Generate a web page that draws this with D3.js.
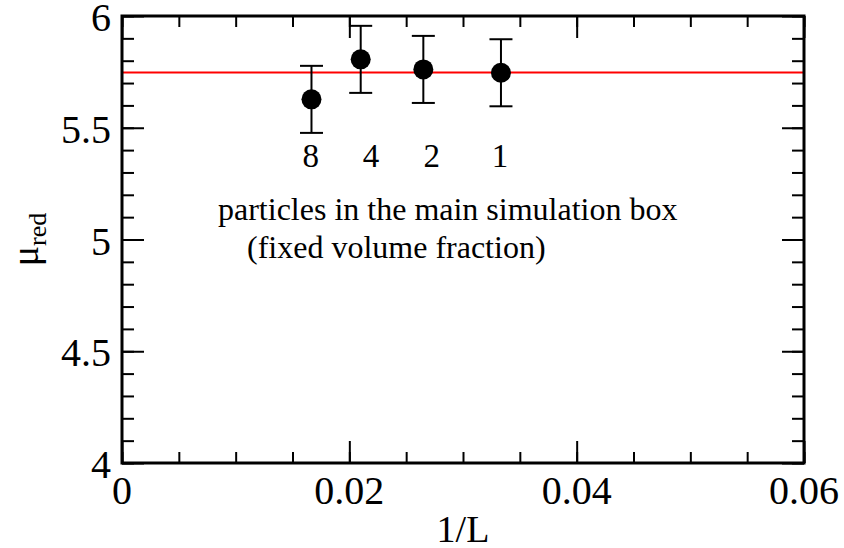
<!DOCTYPE html>
<html>
<head>
<meta charset="utf-8">
<script src="https://cdn.jsdelivr.net/npm/d3@7"></script>
<style>
  body { margin: 0; background: #fff; }
</style>
</head>
<body>
<div id="chart_parent"></div>
<script>
// data
const invL = [0.01667, 0.0210, 0.02651, 0.03334];
const muRed = [5.627, 5.806, 5.761, 5.746];
const muErr = [0.15, 0.15, 0.15, 0.15];
const boxLabels = ['8', '4', '2', '1'];
const boxLabelX = [0.0166, 0.0219, 0.02725, 0.03326];
const refValue = 5.747;
const xTicks = [0, 0.02, 0.04, 0.06];
const yTicks = [4, 4.5, 5, 5.5, 6];
const noteLines = ['particles in the main simulation box', '(fixed volume fraction)'];

const serif = '"Liberation Serif", "Times New Roman", Times, serif';

const config = {
    margins: { top: 16, right: 40, bottom: 85, left: 122 },
    outerWidth: 844,
    outerHeight: 548,
};

const width = config.outerWidth - config.margins.left - config.margins.right;
const height = config.outerHeight - config.margins.top - config.margins.bottom;

const svg = d3.select('#chart_parent').append('svg')
    .attr('width', config.outerWidth)
    .attr('height', config.outerHeight)
    .style('font-family', serif);

const g = svg.append('g')
    .attr('transform', `translate(${config.margins.left},${config.margins.top})`);

const x = d3.scaleLinear().domain([0, 0.06]).range([0, width]);
const y = d3.scaleLinear().domain([4, 6]).range([height, 0]);

const xMinor = d3.range(0, 0.0601, 0.005);
const yMinor = d3.range(4, 6.001, 0.1);

function drawTicks(axis, offset) {
    const grp = g.append('g').attr('transform', offset);
    grp.call(axis);
    grp.select('.domain').remove();
    grp.selectAll('line').attr('stroke', '#000').attr('stroke-width', 2);
    return grp;
}

// minor + major ticks, inward on all four sides
drawTicks(d3.axisBottom(x).tickValues(xMinor).tickSize(-11).tickFormat(''), `translate(0,${height})`);
drawTicks(d3.axisBottom(x).tickValues(xTicks).tickSize(-22).tickFormat(''), `translate(0,${height})`);
drawTicks(d3.axisTop(x).tickValues(xMinor).tickSize(-11).tickFormat(''), 'translate(0,0)');
drawTicks(d3.axisTop(x).tickValues(xTicks).tickSize(-22).tickFormat(''), 'translate(0,0)');
drawTicks(d3.axisLeft(y).tickValues(yMinor).tickSize(-12).tickFormat(''), 'translate(0,0)');
drawTicks(d3.axisLeft(y).tickValues(yTicks).tickSize(-22).tickFormat(''), 'translate(0,0)');
drawTicks(d3.axisRight(y).tickValues(yMinor).tickSize(-12).tickFormat(''), `translate(${width},0)`);
drawTicks(d3.axisRight(y).tickValues(yTicks).tickSize(-22).tickFormat(''), `translate(${width},0)`);

// tick labels
g.selectAll('.xlab').data(xTicks).enter().append('text')
    .attr('x', d => x(d))
    .attr('y', height + 41)
    .attr('text-anchor', 'middle')
    .style('font-family', serif)
    .style('font-size', '40px')
    .text(d => d3.format('')(d));

g.selectAll('.ylab').data(yTicks).enter().append('text')
    .attr('x', -11)
    .attr('y', d => y(d) + 15)
    .attr('text-anchor', 'end')
    .style('font-family', serif)
    .style('font-size', '40px')
    .text(d => d3.format('')(d));

// reference line
g.append('line')
    .attr('x1', 0).attr('x2', width)
    .attr('y1', y(refValue)).attr('y2', y(refValue))
    .attr('stroke', '#ff0000').attr('stroke-width', 2);

// error bars
const pts = invL.map((v, i) => ({ x: v, y: muRed[i], e: muErr[i] }));
const capHalf = 11.5;
const bars = g.selectAll('.err').data(pts).enter().append('g')
    .attr('stroke', '#000').attr('stroke-width', 2);
bars.append('line')
    .attr('x1', d => x(d.x)).attr('x2', d => x(d.x))
    .attr('y1', d => y(d.y - d.e)).attr('y2', d => y(d.y + d.e));
bars.append('line')
    .attr('x1', d => x(d.x) - capHalf).attr('x2', d => x(d.x) + capHalf)
    .attr('y1', d => y(d.y + d.e)).attr('y2', d => y(d.y + d.e));
bars.append('line')
    .attr('x1', d => x(d.x) - capHalf).attr('x2', d => x(d.x) + capHalf)
    .attr('y1', d => y(d.y - d.e)).attr('y2', d => y(d.y - d.e));

g.selectAll('.pt').data(pts).enter().append('circle')
    .attr('cx', d => x(d.x))
    .attr('cy', d => y(d.y))
    .attr('r', 10)
    .attr('fill', '#000');

// frame
g.append('rect')
    .attr('width', width).attr('height', height)
    .attr('fill', 'none').attr('stroke', '#000').attr('stroke-width', 3);

// annotations
g.selectAll('.boxlab').data(boxLabels).enter().append('text')
    .attr('x', (d, i) => x(boxLabelX[i]))
    .attr('y', 151)
    .attr('text-anchor', 'middle')
    .style('font-family', serif)
    .style('font-size', '33px')
    .text(d => d);

g.append('text')
    .attr('x', 96).attr('y', 204)
    .style('font-family', serif)
    .style('font-size', '32px')
    .text(noteLines[0]);
g.append('text')
    .attr('x', 125).attr('y', 242)
    .style('font-family', serif)
    .style('font-size', '32px')
    .text(noteLines[1]);

// axis titles
svg.append('text')
    .attr('x', config.margins.left + width / 2)
    .attr('y', 542)
    .attr('text-anchor', 'middle')
    .style('font-family', serif)
    .style('font-size', '38px')
    .text('1/L');

const yTitle = svg.append('text')
    .attr('transform', `translate(38,${config.margins.top + height / 2}) rotate(-90)`)
    .attr('text-anchor', 'middle')
    .style('font-family', serif)
    .style('font-size', '38px');
yTitle.append('tspan').text('μ');
yTitle.append('tspan').attr('dy', 8).style('font-size', '26px').text('red');
</script>
</body>
</html>
